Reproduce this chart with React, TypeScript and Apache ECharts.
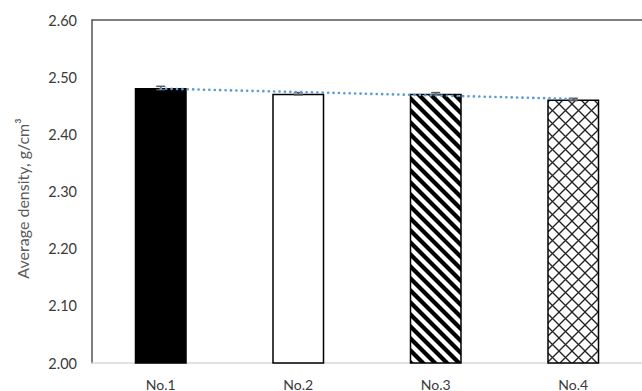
import React, { useEffect, useRef } from "react";
import * as echarts from "echarts";

// Mix designations and measured average densities (g/cm³)
const categories = ["No.1", "No.2", "No.3", "No.4"];
const densities = [2.481, 2.471, 2.471, 2.461];
// Half-width of the error bars (standard deviation)
const errors = [0.003, 0.002, 0.002, 0.002];

// Value axis range
const yMin = 2.0;
const yMax = 2.6;
const yStep = 0.1;

const FONT = "Lato, 'Open Sans', sans-serif";

// Least-squares linear trend over the category index
function linearTrend(values: number[]): number[] {
  const n = values.length;
  const xs = values.map((_, i) => i);
  const mx = xs.reduce((a, b) => a + b, 0) / n;
  const my = values.reduce((a, b) => a + b, 0) / n;
  let sxy = 0;
  let sxx = 0;
  xs.forEach((x, i) => {
    sxy += (x - mx) * (values[i] - my);
    sxx += (x - mx) * (x - mx);
  });
  const slope = sxy / sxx;
  return xs.map((x) => my + slope * (x - mx));
}

// Tile with diagonal hatch lines; "\\" runs down-right, "/" runs up-right
function hatchTile(size: number, dirs: string[], width: number, color: string) {
  const c = document.createElement("canvas");
  c.width = size;
  c.height = size;
  const ctx = c.getContext("2d")!;
  ctx.fillStyle = "#ffffff";
  ctx.fillRect(0, 0, size, size);
  ctx.strokeStyle = color;
  ctx.lineWidth = width;
  dirs.forEach((d) => {
    for (const k of [-size, 0, size]) {
      ctx.beginPath();
      if (d === "\\") {
        ctx.moveTo(k - 2, -2);
        ctx.lineTo(k + size + 2, size + 2);
      } else {
        ctx.moveTo(k - 2, size + 2);
        ctx.lineTo(k + size + 2, -2);
      }
      ctx.stroke();
    }
  });
  return { image: c, repeat: "repeat", imageWidth: size, imageHeight: size };
}

export default function App() {
  const ref = useRef<HTMLDivElement>(null);

  useEffect(() => {
    if (!ref.current) return;
    const chart = echarts.init(ref.current, null, { renderer: "svg" });

    const stripes = hatchTile(12, ["\\"], 4.2, "#000000");
    const cross = hatchTile(13, ["\\", "/"], 1.3, "#222222");

    const barFills: any[] = ["#000000", "#ffffff", stripes, cross];

    const trend = linearTrend(densities);

    const option: any = {
      animation: false,
      backgroundColor: "#ffffff",
      grid: { left: 92, top: 20, width: 560, height: 343, containLabel: false },
      xAxis: [
        {
          type: "category",
          data: categories,
          axisLine: { show: true, lineStyle: { color: "#d9d9d9", width: 1.5 } },
          axisTick: { show: false },
          axisLabel: {
            color: "#3a3a3a",
            fontFamily: FONT,
            fontSize: 14,
            margin: 14,
          },
          splitLine: { show: false },
        },
        {
          type: "category",
          data: categories,
          position: "top",
          axisLine: { show: true, lineStyle: { color: "#555555", width: 1.5 } },
          axisTick: { show: false },
          axisLabel: { show: false },
          splitLine: { show: false },
        },
      ],
      yAxis: {
        type: "value",
        min: yMin,
        max: yMax,
        interval: yStep,
        name: "Average density, g/cm³",
        nameLocation: "middle",
        nameGap: 62,
        nameTextStyle: {
          color: "#595959",
          fontFamily: FONT,
          fontSize: 16,
          padding: [0, 14, 0, 0],
        },
        axisLine: { show: true, lineStyle: { color: "#555555", width: 1.5 } },
        axisTick: { show: false },
        splitLine: { show: false },
        axisLabel: {
          color: "#3a3a3a",
          fontFamily: FONT,
          fontSize: 14.5,
          margin: 15,
          formatter: (v: number) => v.toFixed(2),
        },
      },
      series: [
        {
          type: "bar",
          barWidth: 52,
          data: densities.map((v, i) => ({
            value: v,
            itemStyle: {
              color: barFills[i],
              borderColor: "#000000",
              borderWidth: 1.5,
            },
          })),
          z: 2,
        },
        {
          type: "custom",
          z: 3,
          data: densities.map((v, i) => [i, v, errors[i]]),
          renderItem: (_params: any, api: any) => {
            const i = api.value(0);
            const v = api.value(1);
            const e = api.value(2);
            const hi = api.coord([i, v + e]);
            const lo = api.coord([i, v - e]);
            const cap = 4.5;
            const style = { stroke: "#595959", lineWidth: 1.5 };
            return {
              type: "group",
              children: [
                { type: "line", shape: { x1: hi[0], y1: hi[1], x2: lo[0], y2: lo[1] }, style },
                { type: "line", shape: { x1: hi[0] - cap, y1: hi[1], x2: hi[0] + cap, y2: hi[1] }, style },
                { type: "line", shape: { x1: lo[0] - cap, y1: lo[1], x2: lo[0] + cap, y2: lo[1] }, style },
              ],
            };
          },
        },
        {
          type: "line",
          data: trend,
          symbol: "none",
          z: 4,
          lineStyle: {
            color: "#5b9bd5",
            width: 2.6,
            type: [0.1, 5.3],
            cap: "round",
          },
        },
      ],
    };

    chart.setOption(option);
    return () => chart.dispose();
  }, []);

  return (
    <div
      ref={ref}
      style={{ position: "absolute", left: 0, top: 0, width: 642, height: 391 }}
    />
  );
}
